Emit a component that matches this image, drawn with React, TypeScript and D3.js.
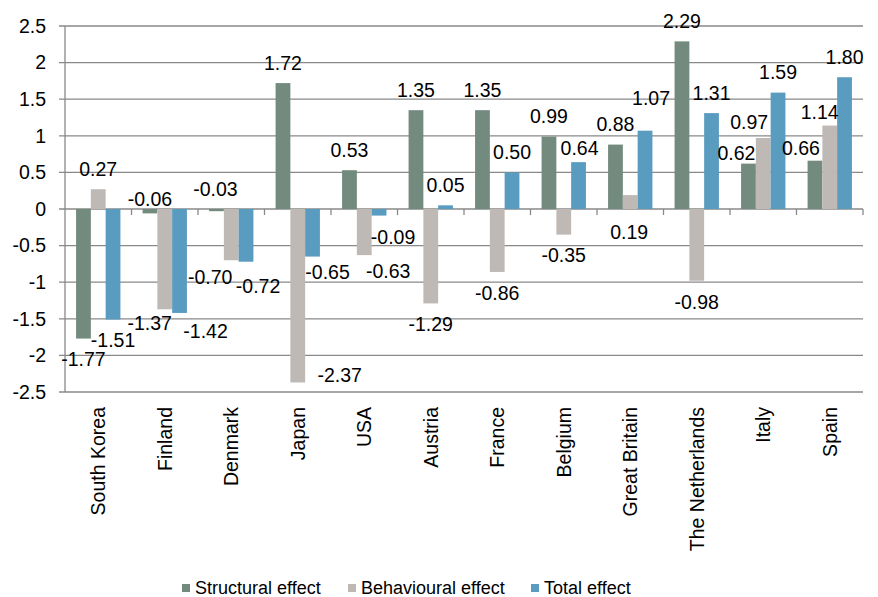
import React from "react";
import * as d3 from "d3";

const countries = [
  "South Korea", "Finland", "Denmark", "Japan", "USA", "Austria",
  "France", "Belgium", "Great Britain", "The Netherlands", "Italy", "Spain",
];
const structural = [-1.77, -0.06, -0.03, 1.72, 0.53, 1.35, 1.35, 0.99, 0.88, 2.29, 0.62, 0.66];
const behavioural = [0.27, -1.37, -0.7, -2.37, -0.63, -1.29, -0.86, -0.35, 0.19, -0.98, 0.97, 1.14];
const total = [-1.51, -1.42, -0.72, -0.65, -0.09, 0.05, 0.5, 0.64, 1.07, 1.31, 1.59, 1.8];
const yTicks = [2.5, 2, 1.5, 1, 0.5, 0, -0.5, -1, -1.5, -2, -2.5];
const seriesNames = ["Structural effect", "Behavioural effect", "Total effect"];
const seriesColors = ["#738a7e", "#bfb9b5", "#5a9bc0"];

// Hand-placed nudges [dx, dy] for data labels that would otherwise collide
const structuralShift = [[0, 0], [0, -35], [-1, -43], [0, 0], [0, 0], [0, 0], [0, 0], [0, 0], [0, 0], [0, 0], [-12, 10], [-14, 7]];
const behaviouralShift = [[0, 0], [-15, -7], [-21, -4], [42, -28], [24, -5], [0, 0], [0, 0], [0, 0], [-1, 57], [0, 0], [-14, 4], [-10, 7]];
const totalShift = [[0, 0], [26, -3], [12, 3], [15, -5], [14, 1], [0, 0], [0, 0], [1, 6], [6, -13], [0, 0], [0, 0], [0, 0]];

const W = 878;
const H = 597;
const left = 65;
const right = 863;
const top = 26;
const bottom = 392;
const FONT = "'Liberation Sans', Arial, sans-serif";
const gridColor = "#898989";

export default function App() {
  const x = d3.scaleBand<string>().domain(countries).range([left, right]);
  const y = d3.scaleLinear().domain([-2.5, 2.5]).range([bottom, top]);
  const inner = d3
    .scaleBand<number>()
    .domain([0, 1, 2])
    .range([0, x.bandwidth()])
    .paddingInner(0)
    .paddingOuter(0.75);

  const series = [
    { values: structural, shift: structuralShift },
    { values: behavioural, shift: behaviouralShift },
    { values: total, shift: totalShift },
  ];
  const bw = inner.bandwidth();
  const y0 = y(0);

  const legendItems = [
    { x: 182, name: seriesNames[0], color: seriesColors[0] },
    { x: 348, name: seriesNames[1], color: seriesColors[1] },
    { x: 531, name: seriesNames[2], color: seriesColors[2] },
  ];

  return (
    <svg width={W} height={H} style={{ position: "absolute", left: 0, top: 0, background: "#fff" }} fontFamily={FONT}>
      <rect width={W} height={H} fill="#fff" />
      {/* gridlines and y tick labels */}
      {yTicks.map((t) => (
        <g key={t}>
          <line x1={left - 6} x2={right} y1={y(t)} y2={y(t)} stroke={gridColor} strokeWidth={1.3} />
          <text x={46} y={y(t)} dy="0.35em" textAnchor="end" fontSize={19.5} fill="#000">
            {t}
          </text>
        </g>
      ))}
      <line x1={left} x2={left} y1={top} y2={bottom} stroke={gridColor} strokeWidth={1.3} />
      {/* category tick marks on the zero line */}
      {countries.map((c, i) => (
        <line key={c} x1={left + x.step() * (i + 1)} x2={left + x.step() * (i + 1)} y1={y0} y2={y0 + 6} stroke={gridColor} strokeWidth={1.3} />
      ))}
      {/* bars */}
      {series.map((s, si) =>
        s.values.map((v, i) => {
          const bx = (x(countries[i]) ?? 0) + (inner(si) ?? 0);
          return (
            <rect
              key={`${si}-${i}`}
              x={bx}
              y={Math.min(y(v), y0)}
              width={bw}
              height={Math.abs(y(v) - y0)}
              fill={seriesColors[si]}
            />
          );
        })
      )}
      {/* data labels */}
      {series.map((s, si) =>
        s.values.map((v, i) => {
          const cx = (x(countries[i]) ?? 0) + (inner(si) ?? 0) + bw / 2;
          const cy = y(v) + (v >= 0 ? -20 : 21);
          const [dx, dy] = s.shift[i];
          return (
            <text
              key={`l-${si}-${i}`}
              x={cx + dx}
              y={cy + dy}
              dy="0.35em"
              textAnchor="middle"
              fontSize={19.5}
              fill="#000"
            >
              {v.toFixed(2)}
            </text>
          );
        })
      )}
      {/* rotated category labels */}
      {countries.map((c) => {
        const cx = (x(c) ?? 0) + x.bandwidth() / 2;
        return (
          <text
            key={`c-${c}`}
            transform={`translate(${cx},${407}) rotate(-90)`}
            dy="0.35em"
            textAnchor="end"
            fontSize={19.5}
            fill="#000"
          >
            {c}
          </text>
        );
      })}
      {/* legend */}
      {legendItems.map((it) => (
        <g key={it.name}>
          <rect x={it.x} y={584} width={8} height={8} fill={it.color} />
          <text x={it.x + 13} y={588} dy="0.35em" fontSize={18} fill="#000">
            {it.name}
          </text>
        </g>
      ))}
    </svg>
  );
}
